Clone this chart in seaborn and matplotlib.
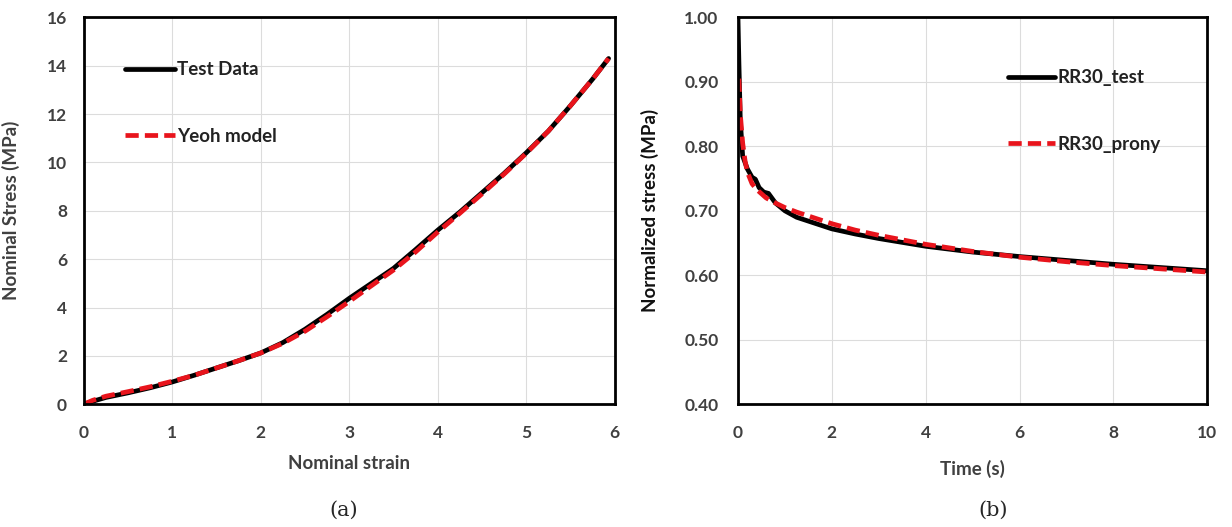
import numpy as np
import pandas as pd
import matplotlib
matplotlib.use('Agg')
import matplotlib.pyplot as plt
import seaborn as sns

# Dados (a): tensao x deformacao
strain_test = [0, 0.1, 0.25, 0.5, 0.75, 1.0, 1.25, 1.5, 1.75, 2.0, 2.25, 2.5, 2.75, 3.0, 3.25, 3.5,
               3.75, 4.0, 4.25, 4.5, 4.75, 5.0, 5.25, 5.5, 5.75, 5.93]
stress_test = [0, 0.12, 0.28, 0.47, 0.68, 0.92, 1.2, 1.5, 1.8, 2.12, 2.55, 3.1, 3.72, 4.38, 5.0, 5.62,
               6.4, 7.2, 7.95, 8.75, 9.55, 10.4, 11.3, 12.35, 13.45, 14.3]
stress_yeoh = [0, 0.16, 0.33, 0.52, 0.72, 0.95, 1.2, 1.5, 1.8, 2.12, 2.52, 3.02, 3.62, 4.25, 4.9, 5.55,
               6.3, 7.12, 7.9, 8.7, 9.52, 10.38, 11.3, 12.35, 13.45, 14.3]

# Dados (b): relaxacao
time_test = [0, 0.02, 0.05, 0.1, 0.2, 0.3, 0.37, 0.45, 0.55, 0.65, 0.8, 1.0, 1.25, 1.5, 2.0, 2.5,
             3.0, 3.5, 4.0, 5.0, 6.0, 7.0, 8.0, 9.0, 10.0]
norm_test = [1.0, 0.93, 0.84, 0.785, 0.765, 0.752, 0.749, 0.736, 0.729, 0.727, 0.712, 0.700, 0.690,
             0.684, 0.672, 0.664, 0.657, 0.651, 0.645, 0.636, 0.629, 0.623, 0.617, 0.612, 0.607]
time_prony = [0.02, 0.05, 0.1, 0.15, 0.2, 0.3, 0.4, 0.6, 0.8, 1.0, 1.25, 1.5, 2.0, 2.5, 3.0,
              3.5, 4.0, 5.0, 6.0, 7.0, 8.0, 9.0, 10.0]
norm_prony = [0.905, 0.85, 0.805, 0.778, 0.76, 0.742, 0.733, 0.72, 0.712, 0.705, 0.698, 0.692,
              0.680, 0.670, 0.662, 0.655, 0.648, 0.637, 0.628, 0.621, 0.615, 0.610, 0.605]

sns.set_style('whitegrid')
plt.rcParams['font.family'] = ['Lato', 'DejaVu Sans']

fig = plt.figure(figsize=(12.32, 5.27), dpi=100)
ax1 = fig.add_axes([0.068, 0.233, 0.431, 0.734])
ax2 = fig.add_axes([0.599, 0.233, 0.381, 0.734])

vermelho = '#e8141c'
tracejado = (0, (2.8, 1.3))

df_a = pd.DataFrame({'x': strain_test, 'test': stress_test, 'yeoh': stress_yeoh})
sns.lineplot(data=df_a, x='x', y='test', ax=ax1, color='black', lw=3.4, label='Test Data')
sns.lineplot(data=df_a, x='x', y='yeoh', ax=ax1, color=vermelho, lw=3.4, ls=tracejado,
             label='Yeoh model')

sns.lineplot(x=time_test, y=norm_test, ax=ax2, color='black', lw=3.4, label='RR30_test')
sns.lineplot(x=time_prony, y=norm_prony, ax=ax2, color=vermelho, lw=3.4, ls=tracejado,
             label='RR30_prony')

ax1.set_xlim(0, 6)
ax1.set_ylim(0, 16)
ax1.set_xticks(range(0, 7))
ax1.set_yticks(range(0, 17, 2))
ax1.set_xlabel('Nominal strain', fontsize=13.5, fontweight='bold', color='#404040')
ax1.set_ylabel('Nominal Stress (MPa)', fontsize=13.5, fontweight='bold', color='#404040')
ax1.xaxis.set_label_coords(0.5, -0.132)
ax1.yaxis.set_label_coords(-0.121, 0.5)

ax2.set_xlim(0, 10)
ax2.set_ylim(0.4, 1.0)
ax2.set_xticks(range(0, 11, 2))
ax2.set_yticks(np.arange(0.4, 1.01, 0.1))
ax2.set_yticklabels(['%.2f' % v for v in np.arange(0.4, 1.01, 0.1)])
ax2.set_xlabel('Time (s)', fontsize=13.5, fontweight='bold', color='#404040')
ax2.set_ylabel('Normalized stress (MPa)', fontsize=13.5, fontweight='bold', color='#111111')
ax2.xaxis.set_label_coords(0.5, -0.145)
ax2.yaxis.set_label_coords(-0.168, 0.5)

for ax, ypad in ((ax1, 12), (ax2, 14)):
    ax.grid(True, color='#dcdcdc', lw=0.8)
    for s in ax.spines.values():
        s.set_color('black')
        s.set_linewidth(2)
    ax.tick_params(labelsize=12.5, colors='#404040', length=0)
    ax.tick_params(axis='x', pad=15)
    ax.tick_params(axis='y', pad=ypad)
    for lab in ax.get_xticklabels() + ax.get_yticklabels():
        lab.set_fontweight('bold')

leg1 = ax1.legend(loc='upper left', bbox_to_anchor=(0.045, 0.93), frameon=False, fontsize=13.5,
                  handlelength=2.7, handletextpad=0.1, labelspacing=2.65)
leg2 = ax2.legend(loc='upper left', bbox_to_anchor=(0.54, 0.91), frameon=False, fontsize=13.5,
                  handlelength=2.5, handletextpad=0.1, labelspacing=2.65)
for leg in (leg1, leg2):
    for t in leg.get_texts():
        t.set_fontweight('bold')
        t.set_color('#222222')

fig.text(0.279, 0.022, '(a)', fontsize=15, family='DejaVu Serif', ha='center')
fig.text(0.806, 0.022, '(b)', fontsize=15, family='DejaVu Serif', ha='center')

fig.savefig('out.png', dpi=100, facecolor='white')
